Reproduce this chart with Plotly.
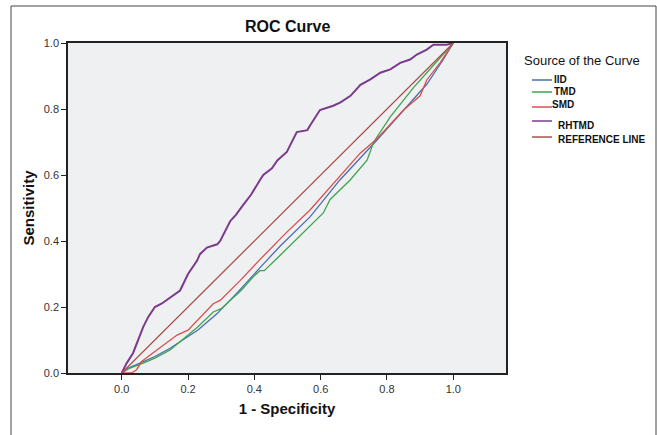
import plotly.graph_objects as go

# ---- data ----
iid_x = [0, 0.02, 0.055, 0.10, 0.146, 0.176, 0.23, 0.288, 0.35, 0.418, 0.478, 0.568, 0.658, 0.77, 0.85, 0.92, 0.97, 1.0]
iid_y = [0, 0.015, 0.03, 0.05, 0.075, 0.095, 0.13, 0.18, 0.245, 0.32, 0.385, 0.473, 0.585, 0.706, 0.797, 0.875, 0.95, 1.0]

tmd_x = [0, 0.025, 0.065, 0.10, 0.146, 0.176, 0.23, 0.276, 0.30, 0.36, 0.40, 0.417, 0.43, 0.478, 0.568, 0.608, 0.628, 0.689, 0.74, 0.76, 0.81, 0.88, 0.92, 0.96, 1.0]
tmd_y = [0, 0.015, 0.03, 0.045, 0.07, 0.095, 0.14, 0.185, 0.195, 0.25, 0.295, 0.31, 0.31, 0.357, 0.446, 0.485, 0.525, 0.585, 0.645, 0.70, 0.776, 0.865, 0.91, 0.955, 1.0]

smd_x = [0, 0.03, 0.045, 0.06, 0.10, 0.167, 0.20, 0.276, 0.297, 0.357, 0.418, 0.498, 0.568, 0.72, 0.77, 0.85, 0.90, 0.92, 0.96, 1.0]
smd_y = [0, 0, 0.01, 0.035, 0.065, 0.115, 0.13, 0.21, 0.22, 0.28, 0.345, 0.427, 0.494, 0.667, 0.71, 0.797, 0.84, 0.888, 0.94, 1.0]

rhtmd_x = [0, 0.015, 0.034, 0.05, 0.065, 0.08, 0.10, 0.12, 0.15, 0.176, 0.20, 0.227, 0.236, 0.257, 0.288, 0.297,
           0.327, 0.345, 0.367, 0.39, 0.417, 0.427, 0.453, 0.47, 0.498, 0.528, 0.56, 0.568, 0.598, 0.638, 0.66,
           0.69, 0.72, 0.75, 0.78, 0.81, 0.84, 0.87, 0.89, 0.92, 0.94, 0.98, 1.0]
rhtmd_y = [0, 0.03, 0.06, 0.10, 0.14, 0.17, 0.20, 0.21, 0.23, 0.25, 0.30, 0.34, 0.36, 0.38, 0.39, 0.40,
           0.46, 0.48, 0.51, 0.54, 0.585, 0.60, 0.62, 0.645, 0.67, 0.73, 0.736, 0.75, 0.797, 0.81, 0.82,
           0.84, 0.873, 0.89, 0.91, 0.92, 0.94, 0.95, 0.965, 0.98, 0.995, 0.995, 1.0]

ref_x = [0, 1]
ref_y = [0, 1]

x_ticks = [0.0, 0.2, 0.4, 0.6, 0.8, 1.0]
y_ticks = [0.0, 0.2, 0.4, 0.6, 0.8, 1.0]

series_names = ["IID", "TMD", "SMD", "RHTMD", "REFERENCE LINE"]
legend_title = "Source of the Curve"

FONT = "Liberation Sans, Arial, sans-serif"
NARROW = "Liberation Sans Narrow, Arial Narrow, Liberation Sans, Arial, sans-serif"

# plot-area geometry in pixels (used only to place the custom legend / frame)
L, R, T, B = 68, 506, 43, 373
W, H = R - L, B - T


def px_x(p):
    return (p - L) / W


def px_y(p):
    return (B - p) / H


fig = go.Figure()
styles = [("#4a6db3", 1.3), ("#3fa54f", 1.3), ("#d6504c", 1.3), ("#7b3a8e", 2.0), ("#a8514e", 1.3)]
data = [(iid_x, iid_y), (tmd_x, tmd_y), (smd_x, smd_y), (rhtmd_x, rhtmd_y), (ref_x, ref_y)]
for name, (xs, ys), (col, w) in zip(series_names, data, styles):
    fig.add_trace(go.Scatter(x=xs, y=ys, mode="lines", name=name,
                             line=dict(color=col, width=w), showlegend=False))

fig.update_layout(
    width=657, height=435,
    margin=dict(l=L, r=657 - R, t=T, b=435 - B),
    paper_bgcolor="white",
    plot_bgcolor="#eff0f2",
    font=dict(family=FONT, color="#222"),
    showlegend=False,
)
fig.update_xaxes(
    range=[-0.162, 1.159], tickvals=x_ticks, tickformat=".1f",
    showgrid=False, zeroline=False,
    showline=True, linecolor="#222", linewidth=1.5, mirror=True,
    ticks="outside", ticklen=5, tickcolor="#222", tickwidth=1.2,
    tickfont=dict(size=11, color="#333"),
    title=dict(text="<b>1 - Specificity</b>", font=dict(size=15, color="#111"), standoff=10),
)
fig.update_yaxes(
    range=[0, 1], tickvals=y_ticks, tickformat=".1f",
    showgrid=False, zeroline=False,
    showline=True, linecolor="#222", linewidth=1.5, mirror=True,
    ticks="outside", ticklen=5, tickcolor="#222", tickwidth=1.2,
    tickfont=dict(size=11, color="#333"),
    title=dict(text="<b>Sensitivity</b>", font=dict(size=15, color="#111"), standoff=6),
)

# chart title
fig.add_annotation(text="<b>ROC Curve</b>", xref="paper", yref="paper",
                   x=px_x(287), y=px_y(27), xanchor="center", yanchor="middle",
                   showarrow=False, font=dict(size=16, color="#111", family=FONT))

# outer frame around the whole chart
fig.add_shape(type="rect", xref="paper", yref="paper",
              x0=px_x(11), x1=px_x(656), y0=px_y(445), y1=px_y(6),
              line=dict(color="#444", width=1), layer="below")

# custom legend (positions match the reference's uneven spacing)
fig.add_annotation(text=legend_title, xref="paper", yref="paper",
                   x=px_x(522), y=px_y(60), xanchor="left", yanchor="middle",
                   showarrow=False, font=dict(size=13, color="#111", family=FONT))
line_y = [80, 92, 107, 121, 137]
text_y = [79, 91.5, 104.5, 125, 139]
text_x = [553, 553, 551, 557, 557]
for name, (col, w), ly, ty, tx in zip(series_names, styles, line_y, text_y, text_x):
    fig.add_shape(type="line", xref="paper", yref="paper",
                  x0=px_x(532), x1=px_x(552), y0=px_y(ly), y1=px_y(ly),
                  line=dict(color=col, width=1.5))
    fig.add_annotation(text="<b>%s</b>" % name, xref="paper", yref="paper",
                       x=px_x(tx), y=px_y(ty), xanchor="left", yanchor="middle",
                       showarrow=False, borderpad=0,
                       font=dict(size=10, color="#111", family=NARROW))

fig.write_html("out.html", config={"displayModeBar": False},
               post_script="document.body.style.margin='0';")
